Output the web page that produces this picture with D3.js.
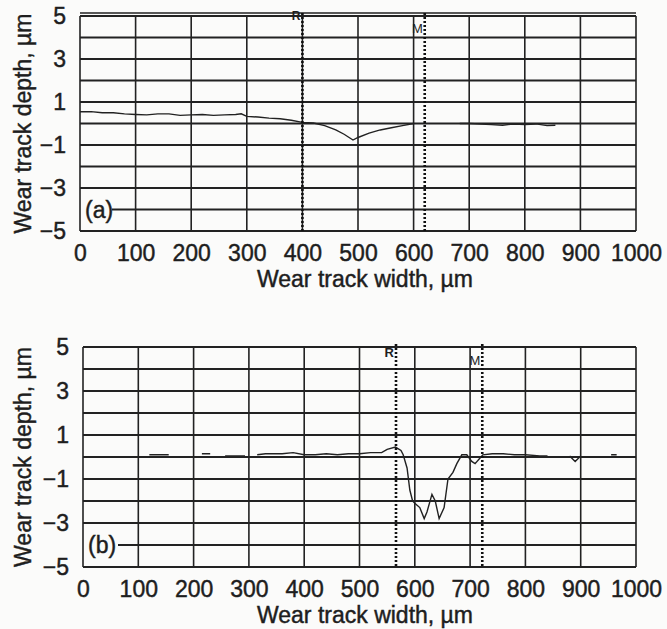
<!DOCTYPE html>
<html>
<head>
<meta charset="utf-8">
<script src="https://cdn.jsdelivr.net/npm/d3@7"></script>
<style>
  body { margin: 0; background: #fbfbfa; }
  svg text { font-family: "Liberation Sans", Arial, sans-serif; fill: #1e1e1e; }
</style>
</head>
<body>
<div id="chart"></div>
<script>
// tick values shared by both panels
var xTicks = [0, 100, 200, 300, 400, 500, 600, 700, 800, 900, 1000];
var yTicks = [5, 3, 1, -1, -3, -5];
var yGrid = [5, 4, 3, 2, 1, 0, -1, -2, -3, -4, -5];

// panel (a) profile, null = gap in trace
var profileAx = [0, 20, 40, 60, 80, 100, 120, 140, 160, 180, 200, 220, 240, 260, 280, 290, 300, 320, 340, 360, 380, 400, 420, 440, 460, 475, 491, 500, 520, 540, 560, 580, 600, 640, 683, 700, 720, 740, 760, 780, 800, 820, 840, 855];
var profileAy = [0.55, 0.55, 0.5, 0.5, 0.45, 0.42, 0.4, 0.45, 0.45, 0.38, 0.4, 0.42, 0.38, 0.4, 0.42, 0.45, 0.33, 0.3, 0.25, 0.22, 0.15, 0.05, 0.02, -0.1, -0.3, -0.5, -0.77, -0.65, -0.45, -0.3, -0.2, -0.1, 0.0, null, 0.0, 0.0, -0.02, -0.05, -0.08, -0.02, -0.05, -0.02, -0.1, -0.08];

// panel (b) profile
var profileBx = [120, 155, 185, 215, 230, 245, 257, 293, 305, 315, 330, 360, 380, 400, 420, 440, 460, 480, 500, 520, 540, 550, 565, 575, 579, 586, 591, 596, 600, 609, 617, 622, 631, 637, 644, 653, 660, 669, 676, 685, 694, 703, 709, 716, 723, 740, 760, 780, 800, 826, 840, 860, 880, 890, 900, 930, 955, 965];
var profileBy = [0.1, 0.1, null, 0.15, 0.15, null, 0.05, 0.05, null, 0.1, 0.15, 0.15, 0.2, 0.1, 0.1, 0.15, 0.1, 0.15, 0.15, 0.2, 0.2, 0.35, 0.45, 0.3, 0.1, -0.5, -1.5, -2.0, -2.1, -2.3, -2.8, -2.5, -1.7, -2.0, -2.8, -2.3, -1.0, -0.7, -0.3, 0.1, 0.1, -0.2, -0.3, -0.1, 0.1, 0.15, 0.15, 0.1, 0.1, 0.05, 0.05, null, 0.05, -0.2, 0.05, null, 0.1, 0.1];

// cursor markers
var markersA = [400, 620];
var markersB = [566, 722];
var markerLabels = ["R", "M"];

var panelLabels = ["(a)", "(b)"];
var yTitle = "Wear track depth, \u00b5m";
var xTitle = "Wear track width, \u00b5m";

var width = 667, height = 629;
var ink = "#1e1e1e";

var svg = d3.select("#chart")
    .append("svg")
    .attr("width", width)
    .attr("height", height);

// scanned text looks heavier than regular, so add a thin stroke
function heavy(sel) {
    sel.style("font-family", "Liberation Sans, Arial, sans-serif")
        .attr("fill", ink)
        .attr("stroke", ink)
        .attr("stroke-width", 0.45);
}

function drawPanel(cfg) {
    var x = d3.scaleLinear().domain([0, 1000]).range([cfg.left, cfg.right]);
    var y = d3.scaleLinear().domain([-5, 5]).range([cfg.bottom, cfg.top]);

    var g = svg.append("g").attr("class", "panel");

    // horizontal grid
    g.selectAll(".hgrid")
        .data(yGrid).enter().append("line")
        .attr("class", "hgrid")
        .attr("x1", function(d){ return d === -4 ? cfg.labelEnd : cfg.left })
        .attr("x2", cfg.right)
        .attr("y1", function(d){ return y(d) })
        .attr("y2", function(d){ return y(d) })
        .attr("stroke", "#222")
        .attr("stroke-width", 1.8);

    // vertical grid
    g.selectAll(".vgrid")
        .data(xTicks).enter().append("line")
        .attr("class", "vgrid")
        .attr("x1", function(d){ return x(d) })
        .attr("x2", function(d){ return x(d) })
        .attr("y1", cfg.top)
        .attr("y2", cfg.bottom)
        .attr("stroke", "#222")
        .attr("stroke-width", 1.6);

    if (cfg.doubleTop) {
        g.append("line")
            .attr("x1", cfg.left).attr("x2", cfg.right)
            .attr("y1", cfg.top - 3).attr("y2", cfg.top - 3)
            .attr("stroke", "#222").attr("stroke-width", 1.4);
    }

    // panel label (a)/(b)
    g.append("text")
        .attr("x", cfg.left + 5)
        .attr("y", y(-4) + 8)
        .attr("font-size", 23)
        .text(cfg.label)
        .call(heavy);

    // axes: only the labels are visible
    var xAxis = d3.axisBottom(x).tickValues(xTicks).tickSize(0).tickPadding(0)
        .tickFormat(d3.format("d"));
    g.append("g")
        .attr("transform", "translate(0," + (cfg.bottom + 12) + ")")
        .call(xAxis)
        .call(function(s){ s.select(".domain").remove() })
        .selectAll("text")
        .attr("font-size", 23)
        .attr("dy", "0.78em")
        .call(heavy);

    var yAxis = d3.axisLeft(y).tickValues(yTicks).tickSize(0).tickPadding(0)
        .tickFormat(function(d){ return d < 0 ? "\u2212" + Math.abs(d) : d });
    g.append("g")
        .attr("transform", "translate(" + (cfg.left - 14) + ",0)")
        .call(yAxis)
        .call(function(s){ s.select(".domain").remove() })
        .selectAll("text")
        .attr("font-size", 23)
        .call(heavy);

    // profile trace
    var pts = cfg.xs.map(function(v, i){ return [v, cfg.ys[i]] });
    var line = d3.line()
        .defined(function(d){ return d[1] !== null })
        .x(function(d){ return x(d[0]) })
        .y(function(d){ return y(d[1]) });

    g.append("path")
        .datum(pts)
        .attr("d", line)
        .attr("fill", "none")
        .attr("stroke", "#222")
        .attr("stroke-width", 1.4);

    // cursor markers (dotted)
    g.selectAll(".marker")
        .data(cfg.markers).enter().append("line")
        .attr("class", "marker")
        .attr("x1", function(d){ return x(d) })
        .attr("x2", function(d){ return x(d) })
        .attr("y1", cfg.top - 3)
        .attr("y2", cfg.bottom)
        .attr("stroke", "#111")
        .attr("stroke-width", 2.6)
        .attr("stroke-dasharray", "2,2");

    g.selectAll(".mlabel")
        .data(cfg.markers).enter().append("text")
        .attr("class", "mlabel")
        .attr("x", function(d){ return x(d) - 2 })
        .attr("y", function(d, i){ return cfg.top + cfg.labelDy[i] })
        .attr("text-anchor", "end")
        .attr("font-size", function(d, i){ return i === 0 ? cfg.rSize : 13 })
        .attr("font-weight", function(d, i){ return i === 0 ? "bold" : "normal" })
        .attr("fill", "#222")
        .text(function(d, i){ return markerLabels[i] });

    // axis titles
    svg.append("text")
        .attr("transform", "translate(" + 31 + "," + ((cfg.top + cfg.bottom) / 2) + ") rotate(-90)")
        .attr("text-anchor", "middle")
        .attr("font-size", 23)
        .text(yTitle)
        .call(heavy);

    svg.append("text")
        .attr("x", 365)
        .attr("y", cfg.bottom + 56)
        .attr("text-anchor", "middle")
        .attr("font-size", 23)
        .text(xTitle)
        .call(heavy);
}

drawPanel({ left: 80, right: 636, top: 16, bottom: 231, xs: profileAx, ys: profileAy,
    markers: markersA, label: panelLabels[0], labelEnd: 112, doubleTop: true,
    labelDy: [4, 17], rSize: 12 });

drawPanel({ left: 83, right: 636, top: 347, bottom: 567, xs: profileBx, ys: profileBy,
    markers: markersB, label: panelLabels[1], labelEnd: 118, doubleTop: false,
    labelDy: [10, 18], rSize: 13 });
</script>
</body>
</html>
